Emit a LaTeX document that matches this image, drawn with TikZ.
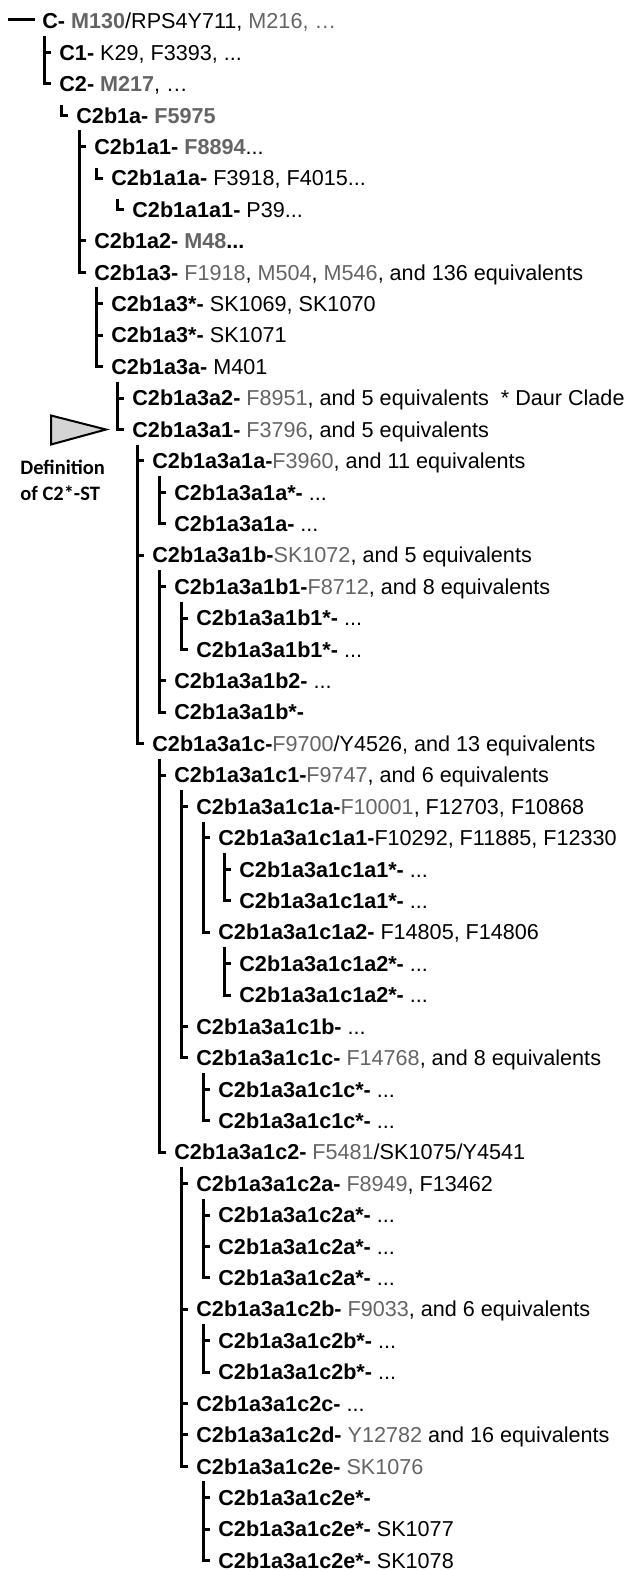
\documentclass[tikz,border=0pt]{standalone}
\usepackage{fontspec}
\setmainfont{Liberation Sans}
\newfontfamily\calibri{Carlito}
\usetikzlibrary{calc}
\definecolor{marker}{HTML}{646464}
\definecolor{pointer}{HTML}{D4D4D4}
\newcommand{\mk}[1]{\textcolor{marker}{#1}}

\begin{document}
\begin{tikzpicture}[x=0.5pt, y=-0.5pt,
    lbl/.style={anchor=west, inner sep=0pt, text height=7.7pt, text depth=0pt, font=\fontsize{10.8}{13}\selectfont},
    defn/.style={anchor=west, align=left, inner sep=0pt, font=\calibri\bfseries\fontsize{10.25}{13}\selectfont},
    br/.style={line width=1.5pt},
    tri/.style={draw=black, line width=1pt, fill=pointer, line join=miter}]
    \useasboundingbox (0,0) rectangle (626,1571);

    \node[lbl] (root) at (42,21.0) {\textbf{C-} \textbf{\mk{M130}}/RPS4Y711, \mk{M216, …}};
    \node[lbl] (c1) at (59,52.4) {\textbf{C1-} K29, F3393, ...};
    \node[lbl] (c2) at (59,83.8) {\textbf{C2-} \textbf{\mk{M217}}, …};
    \node[lbl] (b1a) at (76,115.3) {\textbf{C2b1a-} \textbf{\mk{F5975}}};
    \node[lbl] (b1a1) at (94,146.7) {\textbf{C2b1a1-} \textbf{\mk{F8894}}...};
    \node[lbl] (b1a1a) at (111,178.1) {\textbf{C2b1a1a-} F3918, F4015...};
    \node[lbl] (b1a1a1) at (132,209.5) {\textbf{C2b1a1a1-} P39...};
    \node[lbl] (b1a2) at (94,240.9) {\textbf{C2b1a2-} \textbf{\mk{M48}...}};
    \node[lbl] (b1a3) at (94,272.4) {\textbf{C2b1a3-} \mk{F1918}, \mk{M504}, \mk{M546}, and 136 equivalents};
    \node[lbl] (b1a3s1) at (111,303.8) {\textbf{C2b1a3*-} SK1069, SK1070};
    \node[lbl] (b1a3s2) at (111,335.2) {\textbf{C2b1a3*-} SK1071};
    \node[lbl] (b1a3a) at (111,366.6) {\textbf{C2b1a3a-} M401};
    \node[lbl] (b1a3a2) at (132,398.0) {\textbf{C2b1a3a2-} \mk{F8951}, and 5 equivalents\hspace{0.55em}* Daur Clade};
    \node[lbl] (b1a3a1) at (132,429.5) {\textbf{C2b1a3a1-} \mk{F3796}, and 5 equivalents};
    \node[lbl] (xa) at (152,460.9) {\textbf{C2b1a3a1a-}\mk{F3960}, and 11 equivalents};
    \node[lbl] (xas) at (174,492.3) {\textbf{C2b1a3a1a*-} ...};
    \node[lbl] (xa2) at (174,523.7) {\textbf{C2b1a3a1a-} ...};
    \node[lbl] (xb) at (152,555.1) {\textbf{C2b1a3a1b-}\mk{SK1072}, and 5 equivalents};
    \node[lbl] (xb1) at (174,586.6) {\textbf{C2b1a3a1b1-}\mk{F8712}, and 8 equivalents};
    \node[lbl] (xb1s1) at (196,618.0) {\textbf{C2b1a3a1b1*-} ...};
    \node[lbl] (xb1s2) at (196,649.4) {\textbf{C2b1a3a1b1*-} ...};
    \node[lbl] (xb2) at (174,680.8) {\textbf{C2b1a3a1b2-} ...};
    \node[lbl] (xbs) at (174,712.2) {\textbf{C2b1a3a1b*-}};
    \node[lbl] (xc) at (152,743.7) {\textbf{C2b1a3a1c-}\mk{F9700}/Y4526, and 13 equivalents};
    \node[lbl] (xc1) at (174,775.1) {\textbf{C2b1a3a1c1-}\mk{F9747}, and 6 equivalents};
    \node[lbl] (xc1a) at (196,806.5) {\textbf{C2b1a3a1c1a-}\mk{F10001}, F12703, F10868};
    \node[lbl] (xc1a1) at (218,837.9) {\textbf{C2b1a3a1c1a1-}F10292, F11885, F12330};
    \node[lbl] (xc1a1s1) at (239,869.3) {\textbf{C2b1a3a1c1a1*-} ...};
    \node[lbl] (xc1a1s2) at (239,900.8) {\textbf{C2b1a3a1c1a1*-} ...};
    \node[lbl] (xc1a2) at (218,932.2) {\textbf{C2b1a3a1c1a2-} F14805, F14806};
    \node[lbl] (xc1a2s1) at (239,963.6) {\textbf{C2b1a3a1c1a2*-} ...};
    \node[lbl] (xc1a2s2) at (239,995.0) {\textbf{C2b1a3a1c1a2*-} ...};
    \node[lbl] (xc1b) at (196,1026.4) {\textbf{C2b1a3a1c1b-} ...};
    \node[lbl] (xc1c) at (196,1057.9) {\textbf{C2b1a3a1c1c-} \mk{F14768}, and 8 equivalents};
    \node[lbl] (xc1cs1) at (218,1089.3) {\textbf{C2b1a3a1c1c*-} ...};
    \node[lbl] (xc1cs2) at (218,1120.7) {\textbf{C2b1a3a1c1c*-} ...};
    \node[lbl] (xc2) at (174,1152.1) {\textbf{C2b1a3a1c2-} \mk{F5481}/SK1075/Y4541};
    \node[lbl] (xc2a) at (196,1183.5) {\textbf{C2b1a3a1c2a-} \mk{F8949}, F13462};
    \node[lbl] (xc2as1) at (218,1215.0) {\textbf{C2b1a3a1c2a*-} ...};
    \node[lbl] (xc2as2) at (218,1246.4) {\textbf{C2b1a3a1c2a*-} ...};
    \node[lbl] (xc2as3) at (218,1277.8) {\textbf{C2b1a3a1c2a*-} ...};
    \node[lbl] (xc2b) at (196,1309.2) {\textbf{C2b1a3a1c2b-} \mk{F9033}, and 6 equivalents};
    \node[lbl] (xc2bs1) at (218,1340.6) {\textbf{C2b1a3a1c2b*-} ...};
    \node[lbl] (xc2bs2) at (218,1372.1) {\textbf{C2b1a3a1c2b*-} ...};
    \node[lbl] (xc2c) at (196,1403.5) {\textbf{C2b1a3a1c2c-} ...};
    \node[lbl] (xc2d) at (196,1434.9) {\textbf{C2b1a3a1c2d-} \mk{Y12782} and 16 equivalents};
    \node[lbl] (xc2e) at (196,1466.3) {\textbf{C2b1a3a1c2e-} \mk{SK1076}};
    \node[lbl] (xc2es1) at (218,1497.7) {\textbf{C2b1a3a1c2e*-}};
    \node[lbl] (xc2es2) at (218,1529.2) {\textbf{C2b1a3a1c2e*-} SK1077};
    \node[lbl] (xc2es3) at (218,1560.6) {\textbf{C2b1a3a1c2e*-} SK1078};

    \node[defn] (defn) at (20,480) {Definition\\of C2*-ST};
    \draw[tri] ($(b1a3a1.west)+(-26,0)$) -- ++(-55,-14) -- ++(0,29) -- cycle;

    % spines
    \draw[br] ($(root.west)+(-34,-2)$) -- ($(root.west)+(-7,-2)$);
    \draw[br] ($(root.west -| c2.west)+(-15,15)$) |- ($(c2.west)+(-8,0)$);
    \draw[br] ($(c2.west -| b1a.west)+(-15,21)$) |- ($(b1a.west)+(-8,0)$);
    \draw[br] ($(b1a.west -| b1a3.west)+(-15,15)$) |- ($(b1a3.west)+(-8,0)$);
    \draw[br] ($(b1a1.west -| b1a1a.west)+(-15,21)$) |- ($(b1a1a.west)+(-8,0)$);
    \draw[br] ($(b1a1a.west -| b1a1a1.west)+(-15,21)$) |- ($(b1a1a1.west)+(-8,0)$);
    \draw[br] ($(b1a3.west -| b1a3a.west)+(-15,15)$) |- ($(b1a3a.west)+(-8,0)$);
    \draw[br] ($(b1a3a.west -| b1a3a1.west)+(-15,15)$) |- ($(b1a3a1.west)+(-8,0)$);
    \draw[br] ($(b1a3a1.west -| xc.west)+(-15,15)$) |- ($(xc.west)+(-8,0)$);
    \draw[br] ($(xa.west -| xa2.west)+(-15,15)$) |- ($(xa2.west)+(-8,0)$);
    \draw[br] ($(xb.west -| xbs.west)+(-15,15)$) |- ($(xbs.west)+(-8,0)$);
    \draw[br] ($(xb1.west -| xb1s2.west)+(-15,15)$) |- ($(xb1s2.west)+(-8,0)$);
    \draw[br] ($(xc.west -| xc2.west)+(-15,15)$) |- ($(xc2.west)+(-8,0)$);
    \draw[br] ($(xc1.west -| xc1c.west)+(-15,15)$) |- ($(xc1c.west)+(-8,0)$);
    \draw[br] ($(xc1a.west -| xc1a2.west)+(-15,15)$) |- ($(xc1a2.west)+(-8,0)$);
    \draw[br] ($(xc1a1.west -| xc1a1s2.west)+(-15,15)$) |- ($(xc1a1s2.west)+(-8,0)$);
    \draw[br] ($(xc1a2.west -| xc1a2s2.west)+(-15,15)$) |- ($(xc1a2s2.west)+(-8,0)$);
    \draw[br] ($(xc1c.west -| xc1cs2.west)+(-15,15)$) |- ($(xc1cs2.west)+(-8,0)$);
    \draw[br] ($(xc2.west -| xc2e.west)+(-15,15)$) |- ($(xc2e.west)+(-8,0)$);
    \draw[br] ($(xc2a.west -| xc2as3.west)+(-15,15)$) |- ($(xc2as3.west)+(-8,0)$);
    \draw[br] ($(xc2b.west -| xc2bs2.west)+(-15,15)$) |- ($(xc2bs2.west)+(-8,0)$);
    \draw[br] ($(xc2e.west -| xc2es3.west)+(-15,15)$) |- ($(xc2es3.west)+(-8,0)$);

    % ticks
    \draw[br] ($(c1.west)+(-15,0)$) -- ($(c1.west)+(-8,0)$);
    \draw[br] ($(b1a1.west)+(-15,0)$) -- ($(b1a1.west)+(-8,0)$);
    \draw[br] ($(b1a2.west)+(-15,0)$) -- ($(b1a2.west)+(-8,0)$);
    \draw[br] ($(b1a3s1.west)+(-15,0)$) -- ($(b1a3s1.west)+(-8,0)$);
    \draw[br] ($(b1a3s2.west)+(-15,0)$) -- ($(b1a3s2.west)+(-8,0)$);
    \draw[br] ($(b1a3a2.west)+(-15,0)$) -- ($(b1a3a2.west)+(-8,0)$);
    \draw[br] ($(xa.west)+(-15,0)$) -- ($(xa.west)+(-8,0)$);
    \draw[br] ($(xb.west)+(-15,0)$) -- ($(xb.west)+(-8,0)$);
    \draw[br] ($(xas.west)+(-15,0)$) -- ($(xas.west)+(-8,0)$);
    \draw[br] ($(xb1.west)+(-15,0)$) -- ($(xb1.west)+(-8,0)$);
    \draw[br] ($(xb2.west)+(-15,0)$) -- ($(xb2.west)+(-8,0)$);
    \draw[br] ($(xb1s1.west)+(-15,0)$) -- ($(xb1s1.west)+(-8,0)$);
    \draw[br] ($(xc1.west)+(-15,0)$) -- ($(xc1.west)+(-8,0)$);
    \draw[br] ($(xc1a.west)+(-15,0)$) -- ($(xc1a.west)+(-8,0)$);
    \draw[br] ($(xc1b.west)+(-15,0)$) -- ($(xc1b.west)+(-8,0)$);
    \draw[br] ($(xc1a1.west)+(-15,0)$) -- ($(xc1a1.west)+(-8,0)$);
    \draw[br] ($(xc1a1s1.west)+(-15,0)$) -- ($(xc1a1s1.west)+(-8,0)$);
    \draw[br] ($(xc1a2s1.west)+(-15,0)$) -- ($(xc1a2s1.west)+(-8,0)$);
    \draw[br] ($(xc1cs1.west)+(-15,0)$) -- ($(xc1cs1.west)+(-8,0)$);
    \draw[br] ($(xc2a.west)+(-15,0)$) -- ($(xc2a.west)+(-8,0)$);
    \draw[br] ($(xc2b.west)+(-15,0)$) -- ($(xc2b.west)+(-8,0)$);
    \draw[br] ($(xc2c.west)+(-15,0)$) -- ($(xc2c.west)+(-8,0)$);
    \draw[br] ($(xc2d.west)+(-15,0)$) -- ($(xc2d.west)+(-8,0)$);
    \draw[br] ($(xc2as1.west)+(-15,0)$) -- ($(xc2as1.west)+(-8,0)$);
    \draw[br] ($(xc2as2.west)+(-15,0)$) -- ($(xc2as2.west)+(-8,0)$);
    \draw[br] ($(xc2bs1.west)+(-15,0)$) -- ($(xc2bs1.west)+(-8,0)$);
    \draw[br] ($(xc2es1.west)+(-15,0)$) -- ($(xc2es1.west)+(-8,0)$);
    \draw[br] ($(xc2es2.west)+(-15,0)$) -- ($(xc2es2.west)+(-8,0)$);
\end{tikzpicture}
\end{document}
